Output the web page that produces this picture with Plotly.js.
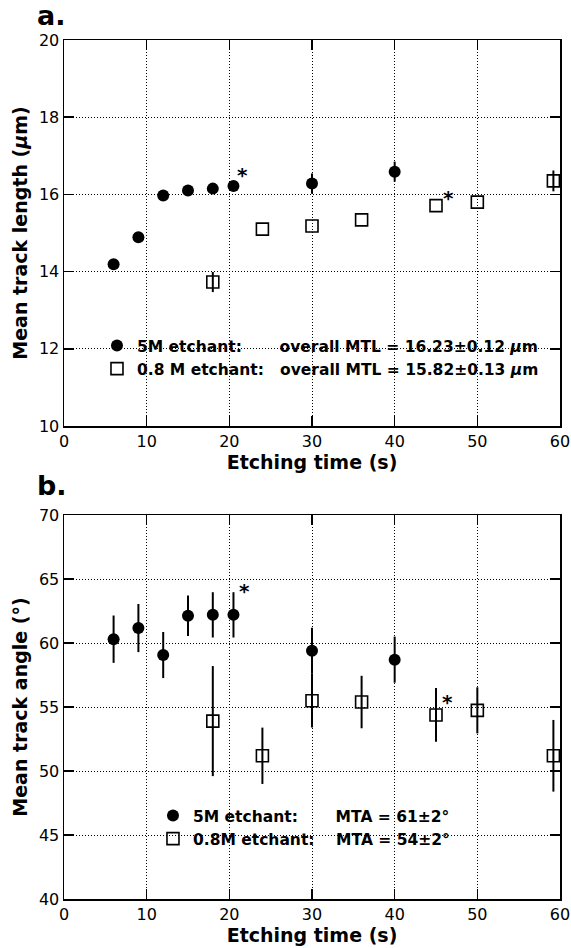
<!DOCTYPE html>
<html>
<head>
<meta charset="utf-8">
<script src="https://cdn.plot.ly/plotly-3.0.1.min.js"></script>
<style>html,body{margin:0;padding:0;background:#fff;}#chart{width:571px;height:948px;}</style>
</head>
<body>
<div id="chart"></div>
<script>
// ---- Data ----
// Panel a: mean track length (µm)
const timeMTL5M = [6, 9, 12, 15, 18, 20.5, 30, 40];
const mtl5M = [14.19, 14.89, 15.97, 16.10, 16.15, 16.22, 16.28, 16.59];
const mtl5MErr = [0.1, 0.1, 0.1, 0.1, 0.1, 0.1, 0.26, 0.26];
const timeMTL08M = [18, 24, 30, 36, 45, 50, 59.2];
const mtl08M = [13.73, 15.10, 15.18, 15.34, 15.71, 15.80, 16.35];
const mtl08MErr = [0.26, 0, 0, 0, 0, 0, 0.27];

// Panel b: mean track angle (°)
const timeMTA5M = [6, 9, 12, 15, 18, 20.5, 30, 40];
const mta5M = [60.3, 61.17, 59.06, 62.13, 62.2, 62.2, 59.4, 58.7];
const mta5MErr = [1.85, 1.88, 1.8, 1.58, 1.77, 1.77, 1.8, 1.8];
const timeMTA08M = [18, 24, 30, 36, 45, 50, 59.2];
const mta08M = [53.9, 51.19, 55.49, 55.39, 54.38, 54.74, 51.19];
const mta08MErr = [4.3, 2.2, 2.1, 2.05, 2.1, 1.8, 2.8];

// starred points (index into the series)
const star5M = 5;
const star08M = 4;

// tick values
const xTicks = [0, 10, 20, 30, 40, 50, 60];
const yTicksMTL = [10, 12, 14, 16, 18, 20];
const yTicksMTA = [40, 45, 50, 55, 60, 65, 70];

// legend labels
const legendMTL = ['5M etchant:\u00A0\u00A0\u00A0\u00A0\u00A0\u00A0\u00A0overall MTL = 16.23±0.12 <i>μ</i>m',
                   '0.8 M etchant:\u00A0\u00A0\u00A0overall MTL = 15.82±0.13 <i>μ</i>m'];
const legendMTA = ['5M etchant:\u00A0\u00A0\u00A0\u00A0\u00A0\u00A0\u00A0MTA = 61±2°',
                   '0.8M etchant:\u00A0\u00A0\u00A0\u00A0MTA = 54±2°'];

// ---- Styling ----
const FONT = 'DejaVu Sans, Liberation Sans, Arial, sans-serif';
const err = arr => ({type: 'data', array: arr, visible: true, color: '#000', thickness: 2, width: 0});
const filled = {symbol: 'circle', size: 12, color: '#000', line: {width: 0}};
const open = {symbol: 'square-open', size: 12, color: '#000', line: {width: 1.6, color: '#000'}};

const traces = [
  {x: timeMTL5M, y: mtl5M, error_y: err(mtl5MErr), mode: 'markers', type: 'scatter', marker: filled,
   name: legendMTL[0], xaxis: 'x', yaxis: 'y', legend: 'legend', legendgroup: 'a1'},
  {x: timeMTL08M, y: mtl08M, error_y: err(mtl08MErr), mode: 'markers', type: 'scatter', marker: open,
   name: legendMTL[1], xaxis: 'x', yaxis: 'y', legend: 'legend', legendgroup: 'a2'},
  {x: timeMTA5M, y: mta5M, error_y: err(mta5MErr), mode: 'markers', type: 'scatter', marker: filled,
   name: legendMTA[0], xaxis: 'x2', yaxis: 'y2', legend: 'legend2', legendgroup: 'b1'},
  {x: timeMTA08M, y: mta08M, error_y: err(mta08MErr), mode: 'markers', type: 'scatter', marker: open,
   name: legendMTA[1], xaxis: 'x2', yaxis: 'y2', legend: 'legend2', legendgroup: 'b2'}
];

const baseX = {
  range: [0, 60], tickvals: xTicks, ticktext: xTicks.map(String),
  showgrid: true, gridcolor: '#000', gridwidth: 1, griddash: '1px,2px',
  zeroline: false, showline: true, linecolor: '#000', linewidth: 1.5, mirror: 'ticks',
  ticks: 'inside', ticklen: 10, tickwidth: 1.5, tickcolor: '#000',
  tickfont: {family: FONT, size: 16, color: '#000'},
  title: {text: 'Etching time (s)', font: {family: FONT, size: 19, color: '#000', weight: 'bold'}, standoff: 2}
};
const baseY = {
  showgrid: true, gridcolor: '#000', gridwidth: 1, griddash: '1px,2px',
  zeroline: false, showline: true, linecolor: '#000', linewidth: 1.5, mirror: 'ticks',
  ticks: 'inside', ticklen: 10, tickwidth: 1.5, tickcolor: '#000',
  tickfont: {family: FONT, size: 16, color: '#000'}
};

const starFont = {family: FONT, size: 20, color: '#000', weight: 'bold'};
const legendFont = {family: FONT, size: 15.5, color: '#000', weight: 'bold'};

const layout = {
  width: 571, height: 948,
  margin: {l: 64, r: 11, t: 40, b: 49},
  paper_bgcolor: '#fff', plot_bgcolor: 'rgba(0,0,0,0)',
  showlegend: true,
  xaxis: Object.assign({}, baseX, {anchor: 'y', domain: [0, 1]}),
  yaxis: Object.assign({}, baseY, {anchor: 'x', domain: [0.5506, 1], range: [10, 20],
          tickvals: yTicksMTL, ticktext: yTicksMTL.map(String),
          title: {text: 'Mean track length (<i>μ</i>m)', font: {family: FONT, size: 19, color: '#000', weight: 'bold'}, standoff: 6}}),
  xaxis2: Object.assign({}, baseX, {anchor: 'y2', domain: [0, 1]}),
  yaxis2: Object.assign({}, baseY, {anchor: 'x2', domain: [0, 0.447], range: [40, 70],
          tickvals: yTicksMTA, ticktext: yTicksMTA.map(String),
          title: {text: 'Mean track angle (°)', font: {family: FONT, size: 19, color: '#000', weight: 'bold'}, standoff: 6}}),
  legend: {x: 0.0665, y: 0.6637, xanchor: 'left', yanchor: 'top', bgcolor: 'rgba(0,0,0,0)',
           borderwidth: 0, font: legendFont, tracegroupgap: 2, traceorder: 'normal'},
  legend2: {x: 0.1794, y: 0.1165, xanchor: 'left', yanchor: 'top', bgcolor: 'rgba(0,0,0,0)',
           borderwidth: 0, font: legendFont, tracegroupgap: 2, traceorder: 'normal'},
  annotations: [
    {text: 'a.', xref: 'paper', yref: 'paper', x: -0.058, y: 1.029, xanchor: 'left', yanchor: 'middle',
     showarrow: false, font: {family: FONT, size: 27, color: '#000', weight: 'bold'}},
    {text: 'b.', xref: 'paper', yref: 'paper', x: -0.058, y: 0.4815, xanchor: 'left', yanchor: 'middle',
     showarrow: false, font: {family: FONT, size: 27, color: '#000', weight: 'bold'}},
    {text: '*', xref: 'x', yref: 'y', x: timeMTL5M[star5M], y: mtl5M[star5M], xshift: 9, yshift: 11,
     showarrow: false, font: starFont},
    {text: '*', xref: 'x', yref: 'y', x: timeMTL08M[star08M], y: mtl08M[star08M], xshift: 12, yshift: 8,
     showarrow: false, font: starFont},
    {text: '*', xref: 'x2', yref: 'y2', x: timeMTA5M[star5M], y: mta5M[star5M], xshift: 11, yshift: 24,
     showarrow: false, font: starFont},
    {text: '*', xref: 'x2', yref: 'y2', x: timeMTA08M[star08M], y: mta08M[star08M], xshift: 11, yshift: 13,
     showarrow: false, font: starFont}
  ]
};

Plotly.newPlot('chart', traces, layout, {staticPlot: true, displayModeBar: false});
</script>
</body>
</html>
